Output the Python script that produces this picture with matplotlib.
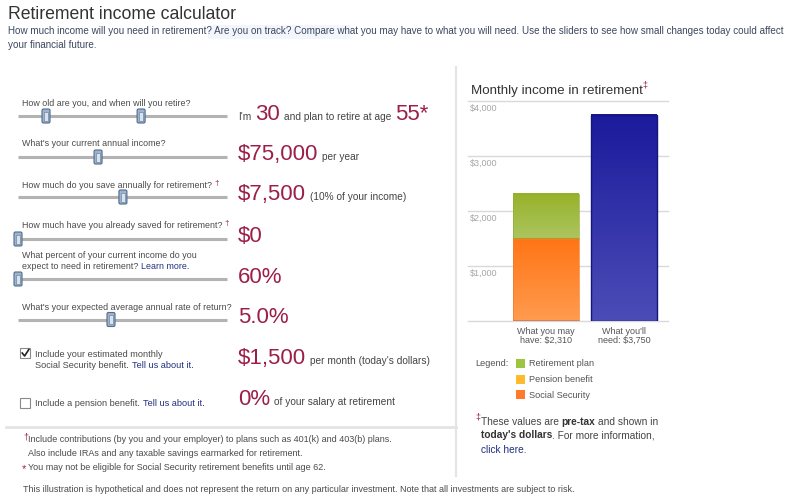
import numpy as np
import matplotlib.pyplot as plt
from matplotlib.patches import Rectangle, FancyBboxPatch
from matplotlib.colors import LinearSegmentedColormap

plt.rcParams['font.family'] = ['Liberation Sans', 'DejaVu Sans']

# ---- chart data ----
columns = ["What you may\nhave: $2,310", "What you'll\nneed: $3,750"]
social_security = [1500, 0]
pension_benefit = [0, 0]
retirement_plan = [810, 0]
income_needed = [0, 3750]
grid_values = [1000, 2000, 3000, 4000]
grid_labels = ["$1,000", "$2,000", "$3,000", "$4,000"]
legend_names = ["Retirement plan", "Pension benefit", "Social Security"]

# ---- calculator inputs ----
questions = [
    ["How old are you, and when will you retire?"],
    ["What's your current annual income?"],
    ["How much do you save annually for retirement?"],
    ["How much have you already saved for retirement?"],
    ["What percent of your current income do you", "expect to need in retirement?"],
    ["What's your expected average annual rate of return?"],
]
question_dagger = [False, False, True, True, False, False]
handle_pos = [[0.134, 0.589], [0.383], [0.502], [0.0], [0.0], [0.445]]
answers = [
    [("I'm", "s"), ("30", "b"), ("and plan to retire at age", "s"), ("55*", "b")],
    [("$75,000", "b"), ("per year", "s")],
    [("$7,500", "b"), ("(10% of your income)", "s")],
    [("$0", "b")],
    [("60%", "b")],
    [("5.0%", "b")],
]
checkbox_text = [["Include your estimated monthly", "Social Security benefit."],
                 ["Include a pension benefit."]]
checkbox_state = [True, False]
checkbox_answers = [
    [("$1,500", "b"), ("per month (today's dollars)", "s")],
    [("0%", "b"), ("of your salary at retirement", "s")],
]

# ---- colours ----
RED = "#9b1f48"
LINK = "#22307f"
TXT = "#4a4a4a"
GRAY_LINE = "#e4e4e4"

fig = plt.figure(figsize=(8, 5.04), dpi=100, facecolor="white")
ui = fig.add_axes([0, 0, 1, 1])
ui.set_xlim(0, 800)
ui.set_ylim(504, 0)
ui.axis("off")
renderer = fig.canvas.get_renderer()

SMALL = dict(fontsize=7.3, color="#444444")
BIG = dict(fontsize=16, color=RED)


def run(x, y, parts):
    # place text pieces one after another on a shared baseline
    for txt, kw, gap in parts:
        t = ui.text(x, y, txt, va="baseline", ha="left", **kw)
        x += t.get_window_extent(renderer).width + gap
    return x


# header
ui.text(8, 19, "Retirement income calculator", fontsize=12.7, color="#333333", va="baseline")
ui.add_patch(Rectangle((208, 25), 142, 14, fc="#f3f7fb", ec="none"))
SUB = dict(fontsize=7.15, color="#3c4660")
ui.text(8, 34.5, "How much income will you need in retirement? Are you on track? Compare what you may have "
        "to what you will need. Use the sliders to see how small changes today could affect",
        va="baseline", **SUB)
ui.text(8, 48.5, "your financial future.", va="baseline", **SUB)

# sliders
q_base = [106, 146, 187.5, 228.5, 258, 310]
slider_y = [116, 157, 197, 239, 279, 319.5]
ans_base = [120, 160, 200, 242, 283, 323]
QF = dict(fontsize=6.4, color=TXT)

for i, lines in enumerate(questions):
    for k, line in enumerate(lines):
        yb = q_base[i] + 11 * k
        if i == 4 and k == 1:
            run(22, yb, [(line, QF, 3), ("Learn more.", dict(fontsize=6.4, color=LINK), 0)])
        else:
            t = ui.text(22, yb, line, va="baseline", **QF)
            if question_dagger[i]:
                w = t.get_window_extent(renderer).width
                ui.text(22 + w + 2, yb - 3, "\u2020", fontsize=6, color=RED, va="baseline")
    y = slider_y[i]
    ui.plot([18, 227], [y, y], color="#b3b3b3", lw=2.2, solid_capstyle="butt", zorder=2)
    for f in handle_pos[i]:
        cx = 18 + f * (227 - 18)
        ui.add_patch(FancyBboxPatch((cx - 4, y - 7), 8, 14, boxstyle="round,pad=0,rounding_size=1.5",
                                    fc="#9fb4cc", ec="#4f6b8b", lw=0.8, zorder=3))
        ui.add_patch(Rectangle((cx - 2, y - 4.5), 4, 9, fc="#d9e3ee", ec="#6d87a5", lw=0.5, zorder=4))
    parts = [(txt, BIG if kind == "b" else SMALL, 4) for txt, kind in answers[i]]
    run(238, ans_base[i], parts)

# checkboxes
cb_top = [348, 397.5]
cb_base = [[357, 368], [405.5]]
cb_ans = [364, 405]
CB = dict(fontsize=6.55, color=TXT)
for i, lines in enumerate(checkbox_text):
    ui.add_patch(Rectangle((20, cb_top[i]), 10, 10, fc="white", ec="#8a8a8a", lw=0.8))
    if checkbox_state[i]:
        ui.plot([22.2, 24.6, 28.8], [cb_top[i] + 5, cb_top[i] + 8, cb_top[i] + 1.5], color="#222222", lw=1.2)
    for k, line in enumerate(lines):
        if k == len(lines) - 1:
            run(35, cb_base[i][k], [(line, CB, 3),
                                    ("Tell us about it.", dict(fontsize=6.55, color=LINK), 0)])
        else:
            ui.text(35, cb_base[i][k], line, va="baseline", **CB)
    parts = [(txt, BIG if kind == "b" else SMALL, 4) for txt, kind in checkbox_answers[i]]
    run(238, cb_ans[i], parts)

# panel separators
ui.plot([6, 456], [427, 427], color=GRAY_LINE, lw=2)
ui.plot([456, 456], [67, 476], color=GRAY_LINE, lw=1.5)

# left footnotes
FN = dict(fontsize=6.45, color=TXT)
ui.text(23, 440, "\u2020", fontsize=6.5, color=RED, va="baseline")
ui.text(28, 442, "Include contributions (by you and your employer) to plans such as 401(k) and 403(b) plans.",
        va="baseline", **FN)
ui.text(28, 455.5, "Also include IRAs and any taxable savings earmarked for retirement.", va="baseline", **FN)
ui.text(22, 472, "*", fontsize=8, color=RED, va="baseline")
ui.text(28, 470.5, "You may not be eligible for Social Security retirement benefits until age 62.",
        va="baseline", **FN)
ui.text(23, 492.5, "This illustration is hypothetical and does not represent the return on any particular "
        "investment. Note that all investments are subject to risk.", fontsize=6.45, color=TXT, va="baseline")

# ---- chart ----
ui.text(471, 94, "Monthly income in retirement", fontsize=9.6, color="#333333", va="baseline")
ui.text(642, 88, "\u2021", fontsize=6.5, color=RED, va="baseline")

ch = fig.add_axes([468 / 800, (504 - 321) / 504, 200 / 800, 220 / 504])
ch.set_facecolor("none")
for s in ch.spines.values():
    s.set_visible(False)

x = np.arange(len(columns))
w = 66 / 78
bot2 = np.add(social_security, pension_benefit)
b_ss = ch.bar(x, social_security, w, fc="none", ec="#f07a30", lw=0.5, zorder=3)
b_pen = ch.bar(x, pension_benefit, w, bottom=social_security, fc="none", ec="none", zorder=3)
b_ret = ch.bar(x, retirement_plan, w, bottom=bot2, fc="none", ec="#93ad35", lw=0.5, zorder=3)
b_need = ch.bar(x, income_needed, w, fc="none", ec="#15157a", lw=1.0, zorder=3)


def shade(bars, top, bottom):
    cm = LinearSegmentedColormap.from_list("g", [bottom, top])
    grad = np.linspace(0, 1, 64).reshape(-1, 1)
    for b in bars:
        h = b.get_height()
        if h <= 0:
            continue
        x0, y0 = b.get_x(), b.get_y()
        ch.imshow(grad, cmap=cm, extent=[x0, x0 + b.get_width(), y0, y0 + h], origin="lower",
                  aspect="auto", interpolation="bilinear", zorder=2)


shade(b_ss, "#ff7515", "#ff9b4f")
shade(b_pen, "#ffb020", "#ffc450")
shade(b_ret, "#97b22a", "#abc55e")
shade(b_need, "#1b1b9c", "#4c4cb7")

ch.set_xlim(-1, 200 / 78 - 1)
ch.set_ylim(0, 4000)
ch.set_yticks([])
for v in [0] + grid_values:
    ch.axhline(v, color="#d9d9d9", lw=1, zorder=1, clip_on=False)
for v, lab in zip(grid_values, grid_labels):
    ch.annotate(lab, xy=(0.01, v), xycoords=("axes fraction", "data"), xytext=(0, -3),
                textcoords="offset pixels", va="top", ha="left", fontsize=6.5,
                color="#a6a6a6")
ch.set_xticks(x)
ch.set_xticklabels(columns, fontsize=6.5, color="#555555", linespacing=1.05)
ch.tick_params(axis="x", length=0, pad=4)

# legend
ui.text(475, 366.5, "Legend:", fontsize=6.6, color="#555555", va="baseline")
leg_colors = ["#9dc541", "#ffba2e", "#ff7b2b"]
for k, (name, c) in enumerate(zip(legend_names, leg_colors)):
    yc = 363.3 + 15.7 * k
    ui.add_patch(Rectangle((516, yc - 4.5), 9, 9, fc=c, ec="none"))
    ui.text(529, yc + 3.2, name, fontsize=6.6, color="#555555", va="baseline")

# right footnote
FR = dict(fontsize=7.3, color="#444444")
FB = dict(fontsize=7.3, color="#333333", fontweight="bold")
ui.text(475, 420, "\u2021", fontsize=6.5, color=RED, va="baseline")
run(481, 425, [("These values are", FR, 2.5), ("pre-tax", FB, 2.5), ("and shown in", FR, 0)])
run(481, 438.5, [("today's dollars", FB, 0), (". For more information,", FR, 0)])
ui.text(481, 453, "click here.", fontsize=7.3, color=LINK, va="baseline")

fig.savefig("out.png", dpi=100, facecolor="white")
